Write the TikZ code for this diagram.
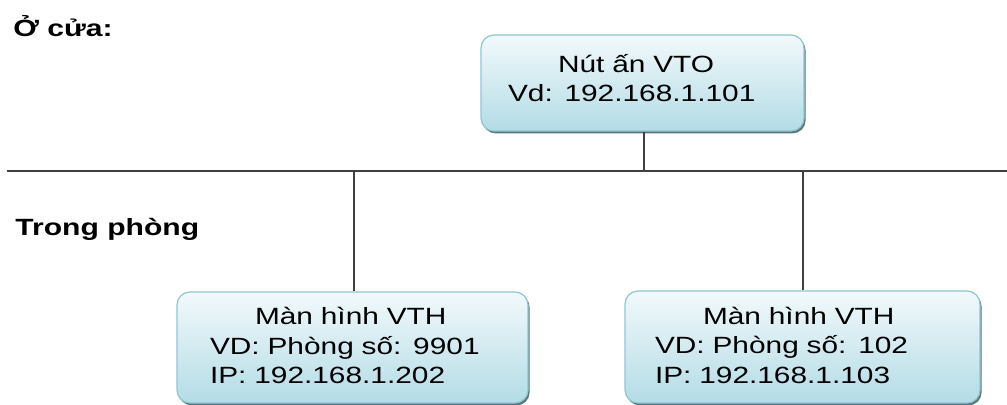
\documentclass[tikz,border=0pt]{standalone}
\usepackage{fontspec}
\setmainfont{Liberation Sans}[FakeStretch=1.27]
\newfontfamily\headfont{Liberation Sans}[FakeStretch=1.28]
\usetikzlibrary{shadows}

\definecolor{boxtop}{HTML}{F2F9FB}
\definecolor{boxbot}{HTML}{B3DCE6}
\definecolor{boxline}{HTML}{8FC6D4}
\definecolor{boxshadow}{HTML}{4A6870}
\definecolor{wire}{HTML}{404040}

\tikzset{
  vtbox/.style={draw=boxline, line width=0.6pt, rounded corners=6.5pt,
                top color=boxtop, bottom color=boxbot,
                drop shadow={shadow xshift=0.8pt, shadow yshift=-1.2pt, fill=boxshadow, opacity=0.9},
                align=left, inner ysep=0pt,
                font=\fontsize{11.75}{14.75}\selectfont},
  zone/.style={anchor=base west, inner sep=0pt, font=\headfont\bfseries\fontsize{11.75}{14}\selectfont},
  wireline/.style={draw=wire, line width=1pt}
}

\begin{document}
\begin{tikzpicture}[x=0.5pt, y=-0.5pt]
\useasboundingbox (0,0) rectangle (1007,405);

\node[zone] (door) at (13,37) {Ở cửa:};
\node[zone] (room) at (15,236) {Trong phòng};

\node[vtbox, minimum height=48pt, inner xsep=13.5pt, text width=134.5pt, text depth=20pt] (vto) at (642.5,83)
  {\hspace{25pt}Nút ấn VTO\\Vd: 192.168.1.101};
\node[vtbox, minimum height=55.5pt, inner xsep=16.5pt, text width=142.5pt, text depth=31.5pt] (vth1) at (352.5,347.5)
  {\hspace{22.5pt}Màn hình VTH\\VD: Phòng số: 9901\\IP: 192.168.1.202};
\node[vtbox, minimum height=56pt, inner xsep=15pt, text width=147.5pt, text depth=31.5pt] (vth2) at (802.5,347)
  {\hspace{24pt}Màn hình VTH\\VD: Phòng số: 102\\IP: 192.168.1.103};

\coordinate (busL) at (7,171.5);
\coordinate (busR) at (1007,171.5);
\path[wireline] (busL) -- (busR);
\path[wireline] ([xshift=0.75pt]vto.south) -- ([xshift=0.75pt]vto.south |- busL);
\path[wireline] ([xshift=0.75pt]vth1.north) -- ([xshift=0.75pt]vth1.north |- busL);
\path[wireline] (vth2.north) -- (vth2.north |- busL);
\end{tikzpicture}
\end{document}
